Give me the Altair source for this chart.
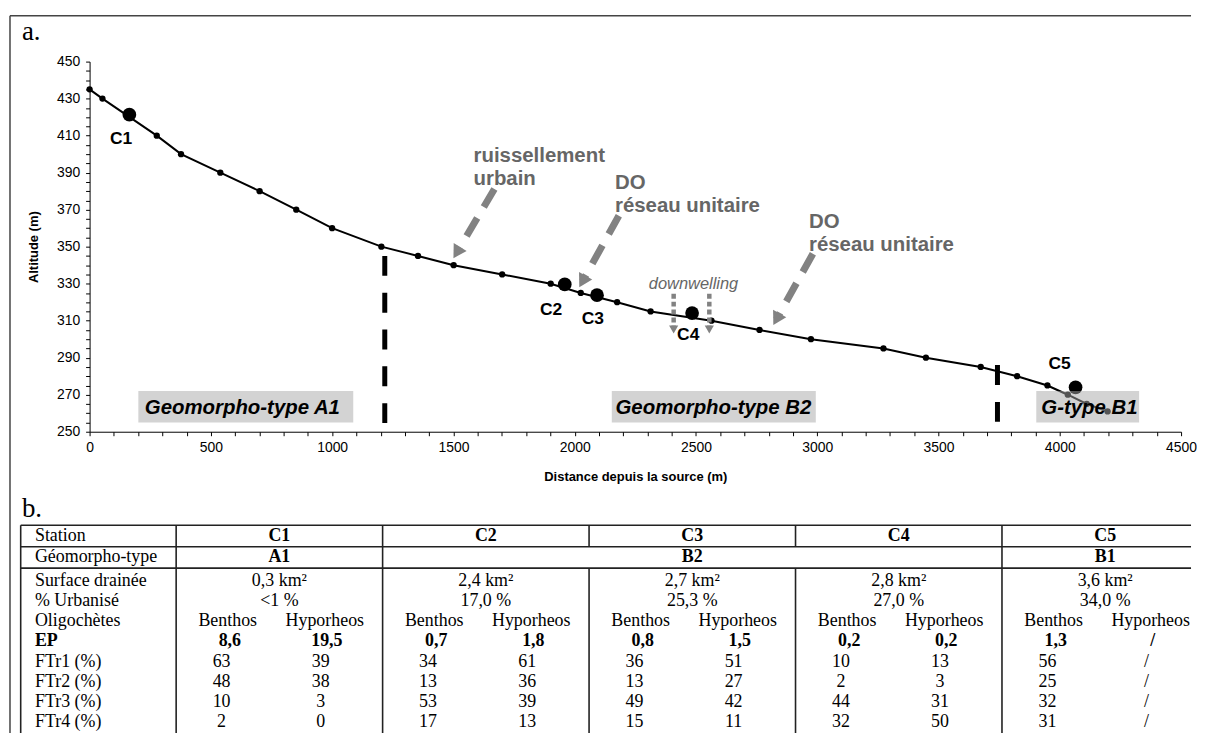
import altair as alt
import pandas as pd

# ---------------- panel a : longitudinal profile ----------------
dist = [0, 53, 277, 377, 539, 701, 852, 1000, 1203, 1354, 1501, 1701, 1901, 2025,
        2175, 2313, 2564, 2762, 2974, 3273, 3448, 3674, 3824, 3949, 4033, 4111, 4197]
altitude = [435, 430, 410, 400, 390, 380, 370, 360, 350, 345, 340, 335, 330, 325,
            320, 315, 310, 305, 300, 295, 290, 285, 280, 275, 270, 265, 261]

stations = ["C1", "C2", "C3", "C4", "C5"]
st_dist = [164, 1959, 2092, 2484, 4065]
st_alt = [421.3, 329.6, 323.8, 314.1, 274.0]
st_lab_dist = [130, 1903, 2075, 2468, 3999]
st_lab_alt = [408.2, 316.0, 310.7, 302.0, 286.4]

# geomorpho-type limits (dashed verticals)
limit_dist = [1217, 3743]
limit_top = [345, 286]
limit_bottom = [251, 255]

# geomorpho-type boxes
gt_labels = ["Geomorpho-type A1", "Geomorpho-type B2", "G-type B1"]
gt_x1 = [201, 2153, 3903]
gt_x2 = [1087, 2994, 4327]
gt_text_x = [630, 2572, 4122]
gt_y1 = [255.0, 255.0, 255.0]
gt_y2 = [272.0, 272.0, 272.0]
gt_text_y = [262.7, 262.7, 262.7]

# annotations
ann_text = ["ruissellement", "urbain", "DO", "réseau unitaire", "DO", "réseau unitaire"]
ann_x = [1583, 1583, 2166, 2166, 2966, 2966]
ann_y = [398.9, 386.6, 384.6, 372.0, 363.1, 351.1]

arrow_x0 = [1669, 2182, 2982]
arrow_y0 = [381.2, 366.7, 346.2]
arrow_hx = [1514, 2032, 2832]
arrow_hy = [346.8, 331.2, 310.8]
arrow_angle = [211, 209, 209]

dw_x = [2408, 2555]
dw_y0 = [324.6, 324.6]
dw_y1 = [306.5, 306.5]
dw_hy = [305.2, 305.2]
dw_text = ["downwelling"]
dw_text_x = [2490]
dw_text_y = [330.0]

# ---------------- panel b : table ----------------
row_labels = ["Station", "Géomorpho-type", "Surface drainée", "% Urbanisé", "Oligochètes",
              "EP", "FTr1 (%)", "FTr2 (%)", "FTr3 (%)", "FTr4 (%)"]
row_pos = [0.53, 1.58, 2.78, 3.78, 4.78, 5.78, 6.78, 7.78, 8.78, 9.78]
geomorpho = ["A1", "B2", "B1"]
geomorpho_col = [0.5, 2.5, 4.5]
surface_km2 = [0.3, 2.4, 2.7, 2.8, 3.6]
urban_pct = ["<1 %", "17,0 %", "25,3 %", "27,0 %", "34,0 %"]
compartments = ["Benthos", "Hyporheos"]
ep_benthos = [8.6, 0.7, 0.8, 0.2, 1.3]
ep_hypo = [19.5, 1.8, 1.5, 0.2, None]
ftr1_benthos = [63, 34, 36, 10, 56]
ftr1_hypo = [39, 61, 51, 13, None]
ftr2_benthos = [48, 13, 13, 2, 25]
ftr2_hypo = [38, 36, 27, 3, None]
ftr3_benthos = [10, 53, 49, 44, 32]
ftr3_hypo = [3, 39, 42, 31, None]
ftr4_benthos = [2, 17, 15, 32, 31]
ftr4_hypo = [0, 13, 11, 50, None]

SANS = "Liberation Sans"
SERIF = "Liberation Serif"
GREY_TXT = "#666666"
GREY_ARW = "#828282"
TFS = 18  # table font size

# ---------------- build panel a ----------------
xs = alt.Scale(domain=[0, 4500], nice=False, zero=False)
ys = alt.Scale(domain=[250, 450], nice=False, zero=False)
xaxis = alt.Axis(values=list(range(0, 4501, 100)),
                 labelExpr="datum.value % 500 === 0 ? datum.label : ''",
                 format="d", title="Distance depuis la source (m)", grid=False,
                 labelFlush=False, labelOverlap=False, tickSize=4, labelPadding=5,
                 titlePadding=16)
yaxis = alt.Axis(values=list(range(250, 451, 5)),
                 labelExpr="(datum.value - 250) % 20 === 0 ? datum.label : ''",
                 format="d", title="Altitude (m)", grid=False,
                 labelFlush=False, labelOverlap=False, tickSize=4, labelPadding=6,
                 titlePadding=16)
X = alt.X("d:Q", scale=xs, axis=xaxis)
Y = alt.Y("a:Q", scale=ys, axis=yaxis)

prof = pd.DataFrame({"d": dist, "a": altitude})
st_df = pd.DataFrame({"d": st_dist, "a": st_alt, "t": stations})
st_lab_df = pd.DataFrame({"d": st_lab_dist, "a": st_lab_alt, "t": stations})
lim_df = pd.DataFrame({"d": limit_dist, "a": limit_top, "a2": limit_bottom})
box_df = pd.DataFrame({"d": gt_x1, "d2": gt_x2, "a": gt_y1, "a2": gt_y2})
box_txt = pd.DataFrame({"d": gt_text_x, "a": gt_text_y, "t": gt_labels})
ann_df = pd.DataFrame({"d": ann_x, "a": ann_y, "t": ann_text})

arr_rows = []
for i in range(len(arrow_x0)):
    arr_rows.append({"id": i, "o": 0, "d": arrow_x0[i], "a": arrow_y0[i]})
    arr_rows.append({"id": i, "o": 1, "d": arrow_hx[i], "a": arrow_hy[i]})
arr_df = pd.DataFrame(arr_rows)
head_df = pd.DataFrame({"d": arrow_hx, "a": arrow_hy, "ang": arrow_angle})
dw_df = pd.DataFrame({"d": dw_x, "a": dw_y0, "a2": dw_y1})
dw_head = pd.DataFrame({"d": dw_x, "a": dw_hy})
dw_txt = pd.DataFrame({"d": dw_text_x, "a": dw_text_y, "t": dw_text})
one = pd.DataFrame({"k": [0]})

line = alt.Chart(prof).mark_line(color="black", strokeWidth=2).encode(X, Y)
dots = alt.Chart(prof).mark_circle(color="black", size=40, opacity=1).encode(X, Y)
big = alt.Chart(st_df).mark_circle(color="black", size=190, opacity=1).encode(X, Y)
st_lab = alt.Chart(st_lab_df).mark_text(font=SANS, fontSize=17.5, fontWeight="bold",
                                        color="black").encode(X, Y, text="t:N")
limits = alt.Chart(lim_df).mark_rule(color="black", strokeWidth=5, strokeDash=[20, 17]).encode(
    X, Y, y2=alt.Y2("a2:Q"))
arrows = alt.Chart(arr_df).mark_line(color=GREY_ARW, strokeWidth=7, strokeDash=[21, 13]).encode(
    X, Y, detail="id:N", order="o:Q")
heads = alt.Chart(head_df).mark_point(shape="triangle-up", filled=True, size=230,
                                      color=GREY_ARW, opacity=1).encode(
    X, Y, angle=alt.Angle("ang:Q", scale=None))
dw = alt.Chart(dw_df).mark_rule(color=GREY_ARW, strokeWidth=4.5, strokeDash=[5, 3]).encode(
    X, Y, y2=alt.Y2("a2:Q"))
dwh = alt.Chart(dw_head).mark_point(shape="triangle-down", filled=True, size=85,
                                    color=GREY_ARW, opacity=1).encode(X, Y)
dwt = alt.Chart(dw_txt).mark_text(font=SANS, fontSize=16.5, fontStyle="italic",
                                  color=GREY_TXT).encode(X, Y, text="t:N")
ann = alt.Chart(ann_df).mark_text(font=SANS, fontSize=20.5, fontWeight="bold", color=GREY_TXT,
                                  align="left", baseline="middle").encode(X, Y, text="t:N")
boxes = alt.Chart(box_df).mark_rect(color="#a8a8a8", opacity=0.5).encode(
    X, Y, x2=alt.X2("d2:Q"), y2=alt.Y2("a2:Q"))
box_t = alt.Chart(box_txt).mark_text(font=SANS, fontSize=20.5, fontWeight="bold",
                                     fontStyle="italic", color="black").encode(X, Y, text="t:N")
frame_top = alt.Chart(one).mark_rule(color="#444444", strokeWidth=1.5).encode(
    x=alt.value(-80), x2=alt.value(1107), y=alt.value(-46))
frame_left = alt.Chart(one).mark_rule(color="#444444", strokeWidth=1.5).encode(
    x=alt.value(-80), y=alt.value(-46), y2=alt.value(690))
lab_a = alt.Chart(one).mark_text(font=SERIF, fontSize=27, align="left",
                                 baseline="alphabetic", color="black").encode(
    x=alt.value(-68), y=alt.value(-22), text=alt.value("a."))

panel_a = alt.layer(line, dots, big, st_lab, limits, arrows, heads, dw, dwh, dwt, ann,
                    boxes, box_t, frame_top, frame_left, lab_a).properties(width=1097, height=372)

# ---------------- build panel b ----------------
n_col = len(stations)
table_left = -0.753
label_u = -0.684
tx = alt.Scale(domain=[-0.4193, 4.9157], nice=False, zero=False)
ty = alt.Scale(domain=[0, 10.84], nice=False, zero=False, reverse=True)
TX = alt.X("u:Q", scale=tx, axis=None)
TY = alt.Y("r:Q", scale=ty, axis=None)

line_y = [0, 1.07, 2.13]
h_rules = pd.DataFrame({"u": [table_left] * 3, "u2": [4.9157] * 3, "r": line_y})
v_rows = []
for u in [table_left, 0, 1, 4]:
    v_rows.append({"u": u, "r": 0, "r2": 10.84})
for u in [2, 3]:
    v_rows.append({"u": u, "r": 0, "r2": line_y[1]})
    v_rows.append({"u": u, "r": line_y[2], "r2": 10.84})
v_rules = pd.DataFrame(v_rows)

fmt = lambda v: "/" if v is None else f"{v:.1f}".replace(".", ",")
fmti = lambda v: "/" if v is None else str(v)

reg, bold = [], []
for k in range(n_col):
    bold.append({"u": k + 0.5, "r": row_pos[0], "t": stations[k]})
    reg.append({"u": k + 0.5, "r": row_pos[2], "t": f"{fmt(surface_km2[k])} km²"})
    reg.append({"u": k + 0.5, "r": row_pos[3], "t": urban_pct[k]})
    reg.append({"u": k + 0.25, "r": row_pos[4], "t": compartments[0]})
    reg.append({"u": k + 0.72, "r": row_pos[4], "t": compartments[1]})
    bold.append({"u": k + 0.26, "r": row_pos[5], "t": fmt(ep_benthos[k])})
    bold.append({"u": k + 0.73, "r": row_pos[5], "t": fmt(ep_hypo[k])})
    for j, (b, h) in enumerate([(ftr1_benthos, ftr1_hypo), (ftr2_benthos, ftr2_hypo),
                                (ftr3_benthos, ftr3_hypo), (ftr4_benthos, ftr4_hypo)]):
        reg.append({"u": k + 0.22, "r": row_pos[6 + j], "t": fmti(b[k])})
        reg.append({"u": k + 0.70, "r": row_pos[6 + j], "t": fmti(h[k])})
for g, c in zip(geomorpho, geomorpho_col):
    bold.append({"u": c, "r": row_pos[1], "t": g})
reg_df = pd.DataFrame(reg)
bold_df = pd.DataFrame(bold)
lab_df = pd.DataFrame({"u": [label_u] * len(row_labels), "r": row_pos, "t": row_labels,
                       "b": [lbl == "EP" for lbl in row_labels]})

hr = alt.Chart(h_rules).mark_rule(color="#222222", strokeWidth=1.6).encode(
    TX, TY, x2=alt.X2("u2:Q"))
vr = alt.Chart(v_rules).mark_rule(color="#222222", strokeWidth=1.6).encode(
    TX, TY, y2=alt.Y2("r2:Q"))
t_reg = alt.Chart(reg_df).mark_text(font=SERIF, fontSize=TFS, color="black").encode(
    TX, TY, text="t:N")
t_bold = alt.Chart(bold_df).mark_text(font=SERIF, fontSize=TFS, fontWeight="bold",
                                      color="black").encode(TX, TY, text="t:N")
t_lab = alt.Chart(lab_df).transform_filter("!datum.b").mark_text(
    font=SERIF, fontSize=TFS, align="left", color="black").encode(TX, TY, text="t:N")
t_lab_b = alt.Chart(lab_df).transform_filter("datum.b").mark_text(
    font=SERIF, fontSize=TFS, align="left", fontWeight="bold", color="black").encode(
    TX, TY, text="t:N")
lab_b = alt.Chart(one).mark_text(font=SERIF, fontSize=27, align="left",
                                 baseline="alphabetic", color="black").encode(
    x=alt.value(-68), y=alt.value(-8), text=alt.value("b."))

panel_b = alt.layer(hr, vr, t_reg, t_bold, t_lab, t_lab_b, lab_b).properties(
    width=1107, height=219)

chart = alt.vconcat(panel_a, panel_b, spacing=94, bounds="flush").properties(
    padding={"left": 1, "top": 5, "right": 0, "bottom": 0},
    background="white",
).configure_view(stroke=None).configure_axis(
    labelFont=SANS, titleFont=SANS, labelFontSize=14, titleFontSize=13,
    titleFontWeight="bold", labelColor="black", titleColor="black",
    domainColor="black", tickColor="black", domainWidth=1, tickWidth=1,
)

chart.save("out.html", embed_options={"renderer": "svg", "actions": False})
